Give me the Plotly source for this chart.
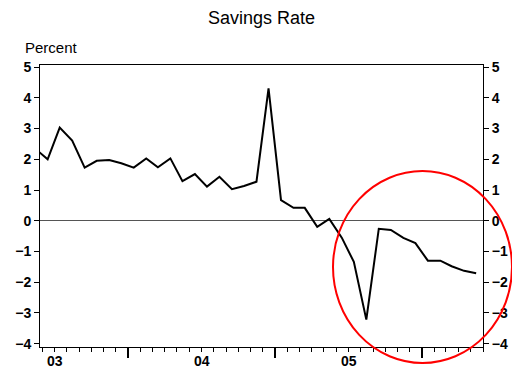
import plotly.graph_objects as go

# Monthly personal savings rate (percent), plotted mid-month
months = [
    "2003-05", "2003-06", "2003-07", "2003-08", "2003-09", "2003-10", "2003-11", "2003-12",
    "2004-01", "2004-02", "2004-03", "2004-04", "2004-05", "2004-06", "2004-07", "2004-08",
    "2004-09", "2004-10", "2004-11", "2004-12",
    "2005-01", "2005-02", "2005-03", "2005-04", "2005-05", "2005-06", "2005-07", "2005-08",
    "2005-09", "2005-10", "2005-11", "2005-12",
    "2006-01", "2006-02", "2006-03", "2006-04", "2006-05",
]
savings_rate = [
    2.35, 2.00, 3.03, 2.61, 1.73, 1.95, 1.98, 1.87,
    1.73, 2.03, 1.74, 2.03, 1.29, 1.52, 1.11, 1.43,
    1.03, 1.13, 1.27, 4.31,
    0.67, 0.42, 0.42, -0.20, 0.06, -0.55, -1.34, -3.22,
    -0.26, -0.30, -0.56, -0.73,
    -1.30, -1.30, -1.48, -1.63, -1.71,
]
y_ticks = [-4, -3, -2, -1, 0, 1, 2, 3, 4, 5]
title_text = "Savings Rate"
unit_text = "Percent"

dates = [m + "-15" for m in months]

FONT = "Liberation Sans, Arial, sans-serif"
x_range = ["2003-05-27", "2006-06-01"]
y_range = [-4.11, 5.07]

# the page body adds an 8px offset; size the figure so it ends at the window edge
OFF = 8
W, H = 520 - OFF, 370 - OFF
L, T, R, B = 40 - OFF, 65 - OFF, 37, 23
PW, PH = W - L - R, H - T - B


def px_x(page_x):
    return (page_x - OFF - L) / PW


def px_y(page_y):
    return (H - B - (page_y - OFF)) / PH


fig = go.Figure()
fig.add_trace(go.Scatter(
    x=dates, y=savings_rate, mode="lines",
    line=dict(color="black", width=2),
    showlegend=False, hoverinfo="skip",
))
# invisible trace so the right-hand axis is drawn
fig.add_trace(go.Scatter(
    x=dates[:1], y=savings_rate[:1], mode="lines", yaxis="y2",
    line=dict(color="rgba(0,0,0,0)"), showlegend=False, hoverinfo="skip",
))

tickfont = dict(family=FONT, size=14, color="black", weight="bold")

fig.update_layout(
    width=W, height=H,
    margin=dict(l=L, r=R, t=T, b=B, autoexpand=False),
    paper_bgcolor="white", plot_bgcolor="white",
    title=dict(text=title_text, x=0.5, xref="paper", xanchor="center",
               y=1 - (18 - OFF) / H, yref="container", yanchor="middle",
               font=dict(family=FONT, size=18, color="black")),
    xaxis=dict(
        type="date", range=x_range, automargin=False,
        showgrid=False, zeroline=False,
        showline=True, linecolor="black", linewidth=1, mirror=True,
        tick0="2004-01-01", dtick="M12", ticklabelmode="period", tickformat="%y",
        ticks="outside", ticklen=10, tickwidth=2, tickcolor="black",
        ticklabelstandoff=-9,
        tickfont=tickfont,
        minor=dict(dtick="M1", tick0="2004-01-01", ticks="outside", ticklen=4,
                   tickwidth=1, tickcolor="black", showgrid=False),
    ),
    yaxis=dict(
        range=y_range, tickvals=y_ticks, automargin=False,
        showgrid=False, zeroline=True, zerolinecolor="#555555", zerolinewidth=1,
        showline=True, linecolor="black", linewidth=1, mirror=True,
        ticks="outside", ticklen=5, tickcolor="black",
        tickfont=tickfont,
    ),
    yaxis2=dict(
        range=y_range, tickvals=y_ticks, overlaying="y", side="right", automargin=False,
        showgrid=False, zeroline=False, showline=False,
        ticks="outside", ticklen=5, tickcolor="black",
        tickfont=tickfont,
    ),
    annotations=[dict(
        text=unit_text, xref="paper", yref="paper",
        x=px_x(23), y=px_y(48),
        xanchor="left", yanchor="middle", showarrow=False,
        font=dict(family=FONT, size=15, color="black"),
    )],
    shapes=[dict(
        type="circle", xref="paper", yref="paper",
        x0=px_x(333), x1=px_x(512),
        y0=px_y(363), y1=px_y(171),
        line=dict(color="red", width=2), layer="above",
    )],
)

fig.write_html("out.html")
